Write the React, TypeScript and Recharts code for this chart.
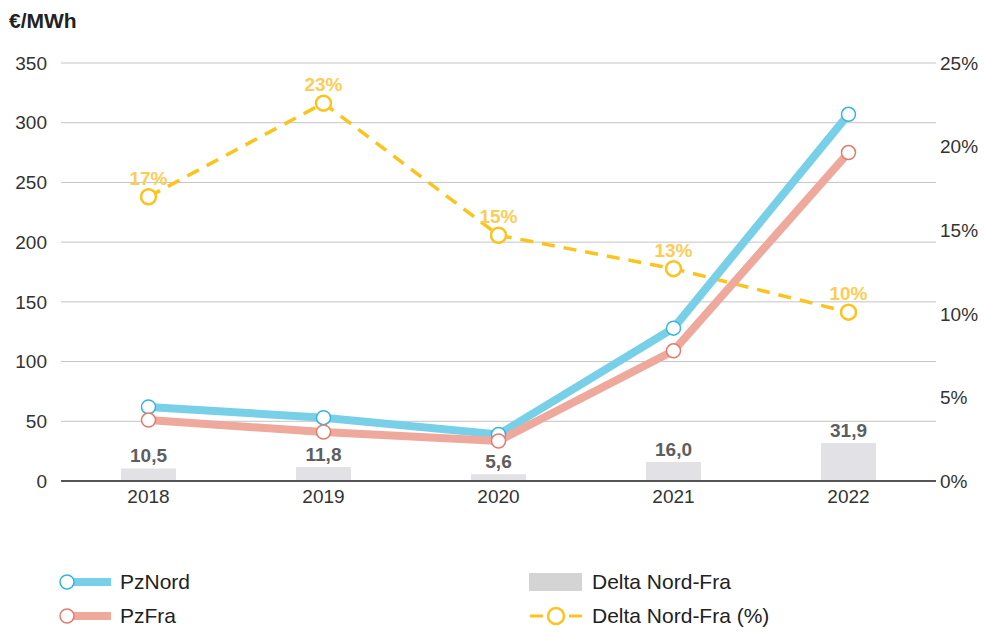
import React from 'react';
import {
  ComposedChart, Bar, Line, XAxis, YAxis, CartesianGrid, LabelList,
} from 'recharts';

const years = ['2018', '2019', '2020', '2021', '2022'];
const pzNord = [62, 53, 39, 128, 307];
const pzFra = [51, 41, 33.5, 109, 275];
const deltaNordFra = [10.5, 11.8, 5.6, 16.0, 31.9];
const deltaPct = [17, 22.6, 14.7, 12.7, 10.1];
const eurTicks = [0, 50, 100, 150, 200, 250, 300, 350];
const pctTicks = [0, 5, 10, 15, 20, 25];

const FONT = '"Liberation Sans", Arial, sans-serif';
const BLUE = '#78d0e8';
const BLUE_DOT = '#34b5dc';
const PINK = '#eea89c';
const PINK_DOT = '#e57a6c';
const YELLOW = '#fbc31c';
const YELLOW_LABEL = '#fdcc55';
const BAR_GREY = '#e1e1e6';

const data = years.map((year, i) => ({
  year,
  nord: pzNord[i],
  fra: pzFra[i],
  delta: deltaNordFra[i],
  pct: deltaPct[i],
}));

const tickStyle = { fontSize: 19, fill: '#333', fontFamily: FONT };

function LegendItem({ icon, label }: { icon: React.ReactNode; label: string }) {
  return (
    <div style={{ display: 'flex', alignItems: 'center', height: 34 }}>
      {icon}
      <span style={{ marginLeft: 8, fontSize: 21, color: '#222', fontFamily: FONT }}>{label}</span>
    </div>
  );
}

const lineIcon = (color: string, dot: string) => (
  <svg width={55} height={20}>
    <line x1={10} y1={10} x2={54} y2={10} stroke={color} strokeWidth={8} />
    <circle cx={10} cy={10} r={7} fill="#fff" stroke={dot} strokeWidth={1.5} />
  </svg>
);

export default function App() {
  return (
    <div style={{ position: 'absolute', left: 0, top: 0, width: 984, height: 632, background: '#fff' }}>
      <div style={{ position: 'absolute', left: 9, top: 9, fontSize: 21, fontWeight: 700, color: '#222', fontFamily: FONT }}>
        €/MWh
      </div>
      <ComposedChart width={984} height={632} data={data} margin={{ top: 63, right: 0, left: 0, bottom: 121 }}>
        <CartesianGrid vertical={false} yAxisId="eur" stroke="#c4c4c4" />
        <XAxis
          dataKey="year"
          height={30}
          axisLine={{ stroke: '#555', strokeWidth: 2 }}
          tickLine={false}
          tickSize={0}
          tickMargin={9}
          tick={tickStyle}
        />
        <YAxis
          yAxisId="eur"
          width={61}
          domain={[0, 350]}
          ticks={eurTicks}
          axisLine={false}
          tickLine={false}
          tickSize={0}
          tickMargin={14}
          tick={tickStyle}
        />
        <YAxis
          yAxisId="pct"
          orientation="right"
          width={48}
          domain={[0, 25]}
          ticks={pctTicks}
          axisLine={false}
          tickLine={false}
          tickSize={0}
          tickMargin={4}
          tick={{ ...tickStyle, textAnchor: 'start' }}
          tickFormatter={(v) => `${v}%`}
        />
        <Bar yAxisId="eur" dataKey="delta" fill={BAR_GREY} barSize={55} isAnimationActive={false}>
          <LabelList
            dataKey="delta"
            position="top"
            offset={6}
            formatter={(v: any) => Number(v).toFixed(1).replace('.', ',')}
            style={{ fontSize: 19, fontWeight: 700, fill: '#5e5e5e', fontFamily: FONT }}
          />
        </Bar>
        <Line
          yAxisId="pct"
          dataKey="pct"
          stroke={YELLOW}
          strokeWidth={3.5}
          strokeDasharray="13 9"
          dot={{ r: 7.5, fill: '#fff', stroke: YELLOW, strokeWidth: 2.5, strokeDasharray: 'none' }}
          isAnimationActive={false}
        >
          <LabelList
            dataKey="pct"
            position="top"
            offset={12}
            formatter={(v: any) => `${Math.round(Number(v))}%`}
            style={{ fontSize: 19, fontWeight: 700, fill: YELLOW_LABEL, fontFamily: FONT }}
          />
        </Line>
        <Line
          yAxisId="eur"
          dataKey="nord"
          stroke={BLUE}
          strokeWidth={8}
          dot={{ r: 7, fill: '#fff', stroke: BLUE_DOT, strokeWidth: 1.5 }}
          isAnimationActive={false}
        />
        <Line
          yAxisId="eur"
          dataKey="fra"
          stroke={PINK}
          strokeWidth={8}
          dot={{ r: 7, fill: '#fff', stroke: PINK_DOT, strokeWidth: 1.5 }}
          isAnimationActive={false}
        />
      </ComposedChart>
      <div style={{ position: 'absolute', left: 57, top: 565 }}>
        <LegendItem icon={lineIcon(BLUE, BLUE_DOT)} label="PzNord" />
        <LegendItem icon={lineIcon(PINK, PINK_DOT)} label="PzFra" />
      </div>
      <div style={{ position: 'absolute', left: 529, top: 565 }}>
        <LegendItem
          icon={<svg width={55} height={20}><rect x={0} y={1} width={53} height={18} fill="#d4d4d4" /></svg>}
          label="Delta Nord-Fra"
        />
        <LegendItem
          icon={
            <svg width={55} height={20}>
              <line x1={1} y1={10} x2={14} y2={10} stroke={YELLOW} strokeWidth={3} />
              <line x1={40} y1={10} x2={53} y2={10} stroke={YELLOW} strokeWidth={3} />
              <circle cx={27} cy={10} r={8} fill="#fff" stroke={YELLOW} strokeWidth={2.5} />
            </svg>
          }
          label="Delta Nord-Fra (%)"
        />
      </div>
    </div>
  );
}
